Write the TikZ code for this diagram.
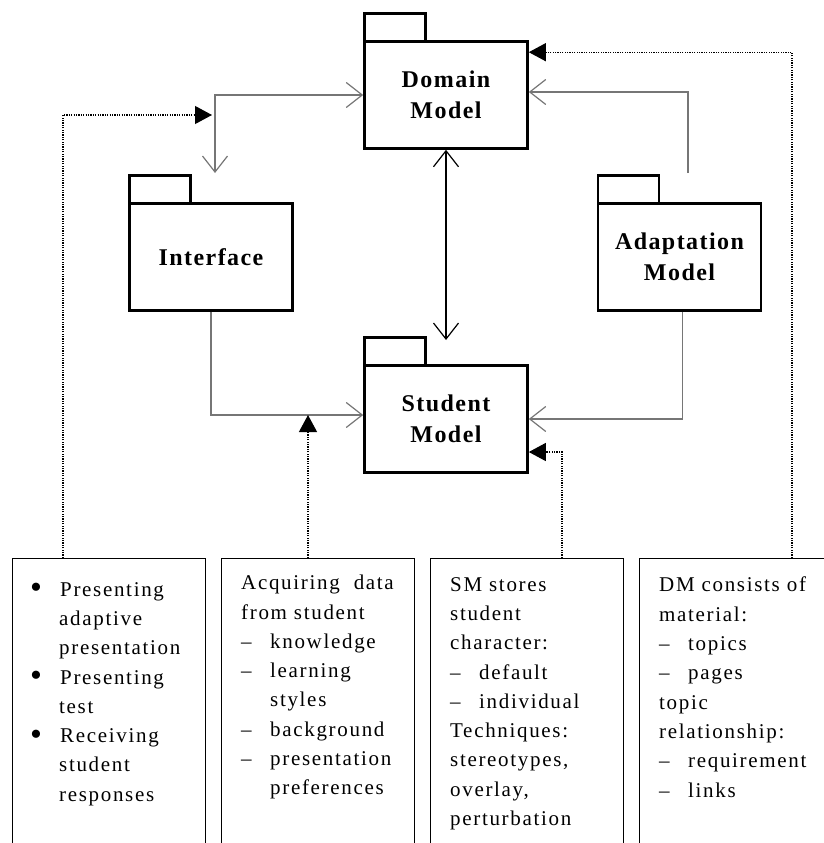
\documentclass[tikz,border=0pt]{standalone}
\usepackage{fontspec}
\setmainfont{Liberation Serif}
\newfontfamily\notefont[LetterSpace=8]{Liberation Serif}
\newfontfamily\pkgfont[LetterSpace=6]{Liberation Serif}
\usetikzlibrary{arrows.meta,positioning}
\definecolor{linkgray}{RGB}{118,118,118}
\newcommand{\dashitem}[1]{\makebox[29pt][l]{–}#1}
\newcommand{\indentitem}[1]{\hspace*{29pt}#1}
\newcommand{\bulletitem}[1]{\makebox[30pt][l]{\raisebox{-2.5pt}{\fontsize{34}{34}\selectfont\textbullet}}#1}
\begin{document}
\begin{tikzpicture}[x=1pt, y=-1pt,
    pkg/.style={draw, line width=2.6pt, minimum width=163pt, minimum height=107pt, align=center,
        font=\pkgfont\bfseries\fontsize{24}{31}\selectfont},
    pkgtab/.style={draw, line width=2.6pt},
    assoc/.style={draw=linkgray, line width=1.2pt, >={Straight Barb[length=16pt,width=25pt]}},
    assocblack/.style={draw=black, line width=1.2pt, >={Straight Barb[length=16pt,width=25pt]}},
    dep/.style={draw, line width=1.2pt, dash pattern=on 1.2pt off 1.2pt, -{Triangle[length=17pt,width=18pt]}},
    notebox/.style={draw, line width=1.4pt, minimum width=193pt, minimum height=300pt, anchor=north west, inner sep=0pt},
    notetext/.style={anchor=north west, inner sep=0pt, align=left, font=\notefont\fontsize{21}{29.3}\selectfont}]
    \useasboundingbox (0,0) rectangle (823,843);

    \node[pkg] (dm) at (446,95) {Domain\\Model};
    \node[pkg] (ifc) at (211,257) {Interface};
    \node[pkg] (am) at (679.5,257) {Adaptation\\Model};
    \node[pkg] (sm) at (446,419) {Student\\Model};
    \foreach \p in {dm, ifc, am, sm}
        \draw[pkgtab] ([shift={(1.3,1.3)}]\p.north west) rectangle ++(61,-28);

    \node[notebox] (n1) at (12,558) {};
    \node[notebox] (n2) at (221,558) {};
    \node[notebox] (n3) at (430,558) {};
    \node[notebox] (n4) at (639,558) {};

    \node[notetext] (t1) at (30,582) {\bulletitem{Presenting}\\ \indentitem{adaptive}\\ \indentitem{presentation}\\
        \bulletitem{Presenting}\\ \indentitem{test}\\ \bulletitem{Receiving}\\ \indentitem{student}\\ \indentitem{responses}};
    \node[notetext] (t2) at (241,575) {Acquiring\hspace{14pt}data\\ from student\\ \dashitem{knowledge}\\ \dashitem{learning}\\
        \indentitem{styles}\\ \dashitem{background}\\ \dashitem{presentation}\\ \indentitem{preferences}};
    \node[notetext] (t3) at (450,577) {SM stores\\ student\\ character:\\ \dashitem{default}\\ \dashitem{individual}\\
        Techniques:\\ stereotypes,\\ overlay,\\ perturbation};
    \node[notetext] (t4) at (659,577) {DM consists of\\ material:\\ \dashitem{topics}\\ \dashitem{pages}\\ topic\\
        relationship:\\ \dashitem{requirement}\\ \dashitem{links}};

    \coordinate (ifctop) at (215,173);
    \coordinate (amtop) at (688,173);
    \coordinate (smtop) at (446,340);
    \coordinate (ifcdot) at (212,115);
    \coordinate (acq) at (308,415);
    \coordinate (n1out) at (63,558);
    \coordinate (n3out) at (562,558);
    \coordinate (n4out) at (792,558);

    \draw[assoc,<->] (dm.west) -| (ifctop);
    \draw[assoc,->] (amtop) |- ([yshift=3pt]dm.east);
    \draw[assocblack,<->] (dm.south) -- (smtop);
    \draw[assoc,->] (ifc.south) |- ([yshift=4pt]sm.west);
    \draw[assoc,->] ([xshift=3pt]am.south) |- (sm.east);

    \draw[dep] (n1out) |- (ifcdot);
    \draw[dep] (n2.north -| acq) -- (acq);
    \draw[dep] (n3out) |- ([yshift=-33pt]sm.east);
    \draw[dep] (n4out) |- ([yshift=-12pt]dm.north east);
\end{tikzpicture}
\end{document}
